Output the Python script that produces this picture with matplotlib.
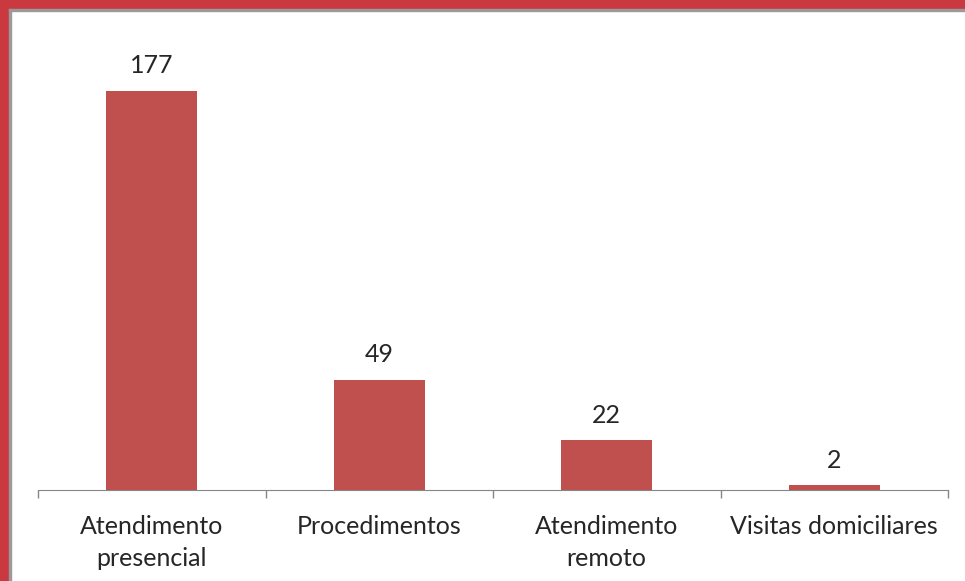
import matplotlib.pyplot as plt
from matplotlib.patches import Rectangle

categories = ['Atendimento\npresencial', 'Procedimentos', 'Atendimento\nremoto', 'Visitas domiciliares']
values = [177, 49, 22, 2]

plt.rcParams['font.family'] = ['Lato', 'DejaVu Sans']

W, H = 965, 581
fig = plt.figure(figsize=(W / 100, H / 100), dpi=100)
fig.patch.set_facecolor('white')

# red frame on top and left, with a thin grey shadow
fig.patches.append(Rectangle((0, 0), 9 / W, 1, transform=fig.transFigure, color='#C9393F', zorder=0))
fig.patches.append(Rectangle((0, 1 - 9 / H), 1, 9 / H, transform=fig.transFigure, color='#C9393F', zorder=0))
fig.patches.append(Rectangle((9 / W, 0), 2 / W, 1 - 9 / H, transform=fig.transFigure, color='#9a9a9a', zorder=0))
fig.patches.append(Rectangle((9 / W, 1 - 11 / H), 1, 2 / H, transform=fig.transFigure, color='#9a9a9a', zorder=0))

ax = fig.add_axes([38 / W, 1 - 490 / H, (948 - 38) / W, (490 - 39) / H])
x = range(len(categories))
bars = ax.bar(x, values, width=0.4, color='#C0504D')
for b, v in zip(bars, values):
    ax.text(b.get_x() + b.get_width() / 2, v + 6, str(v), ha='center', va='bottom',
            fontsize=18, color='#262626')

ax.set_xlim(-0.5, len(categories) - 0.5)
ax.set_ylim(0, 200)
ax.set_xticks(list(x))
ax.set_xticklabels(categories, fontsize=18, color='#262626', linespacing=1.5)
ax.set_xticks([i - 0.5 for i in range(len(categories) + 1)], minor=True)
ax.tick_params(axis='x', which='major', length=0, pad=18)
ax.tick_params(axis='x', which='minor', length=6, color='#868686', width=1)
ax.set_yticks([])
for s in ['top', 'right', 'left']:
    ax.spines[s].set_visible(False)
ax.spines['bottom'].set_color('#868686')

fig.savefig('out.png', dpi=100)
